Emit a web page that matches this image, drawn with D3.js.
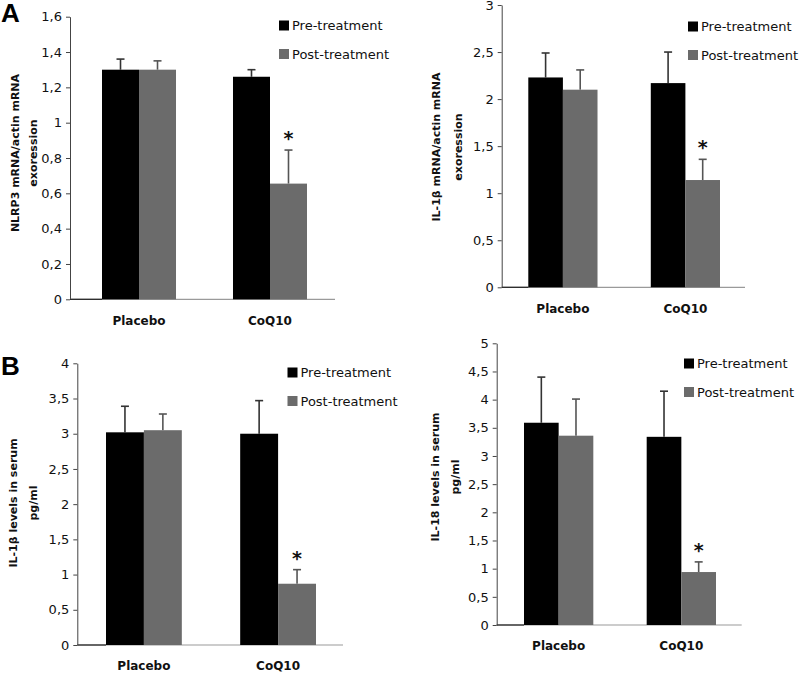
<!DOCTYPE html>
<html><head><meta charset="utf-8">
<script src="https://cdn.jsdelivr.net/npm/d3@7"></script>
<style>body{margin:0;background:#fff}svg{display:block}</style>
</head><body>
<svg id="c" width="800" height="673"></svg>
<script>
// ---------- data ----------
const categories = ["Placebo", "CoQ10"];
const seriesNames = ["Pre-treatment", "Post-treatment"];

const nlrp3Pre = [1.30, 1.26];
const nlrp3PreErr = [0.06, 0.04];
const nlrp3Post = [1.30, 0.655];
const nlrp3PostErr = [0.05, 0.19];

const il1bMrnaPre = [2.23, 2.17];
const il1bMrnaPreErr = [0.26, 0.33];
const il1bMrnaPost = [2.10, 1.14];
const il1bMrnaPostErr = [0.21, 0.22];

const il1bSerumPre = [3.02, 3.00];
const il1bSerumPreErr = [0.37, 0.47];
const il1bSerumPost = [3.05, 0.87];
const il1bSerumPostErr = [0.23, 0.20];

const il18Pre = [3.59, 3.34];
const il18PreErr = [0.81, 0.81];
const il18Post = [3.36, 0.94];
const il18PostErr = [0.65, 0.18];

const yMax = [1.6, 3, 4, 5];
const yStep = [0.2, 0.5, 0.5, 0.5];
const yLabels = [
  ["NLRP3 mRNA/actin mRNA", "exoression"],
  ["IL-1β mRNA/actin mRNA", "exoression"],
  ["IL-1β levels in serum", "pg/ml"],
  ["IL-18 levels in serum", "pg/ml"]
];
const panelLetters = ["A", null, "B", null];
const significance = ["*", "*"]; // on CoQ10 post-treatment bars (placeholder per category index 1)

// ---------- layout ----------
const layouts = [
  {ax:70,   right:335,   b0:102,   b1:307,   yTop:16.7,  y0:299.3, legX:279, legY:25.5, labX:[15,33],   labY:153},
  {ax:501.7,right:745,   b0:528.3, b1:720,   yTop:5,     y0:287.3, legX:688, legY:26.5, labX:[436.5,458], labY:147},
  {ax:77.3, right:343,   b0:106,   b1:316,   yTop:363.3, y0:645,   legX:287.5,legY:372.5,labX:[13,33],  labY:503},
  {ax:496.7,right:741.7, b0:524,   b1:716,   yTop:343.3, y0:625,   legX:684, legY:363.5,labX:[435,455], labY:477}
];
const panelsData = [
  [nlrp3Pre, nlrp3PreErr, nlrp3Post, nlrp3PostErr],
  [il1bMrnaPre, il1bMrnaPreErr, il1bMrnaPost, il1bMrnaPostErr],
  [il1bSerumPre, il1bSerumPreErr, il1bSerumPost, il1bSerumPostErr],
  [il18Pre, il18PreErr, il18Post, il18PostErr]
];
const colors = {pre:"#000000", post:"#6b6b6b"};
const errColors = {pre:"#333333", post:"#555555"};

const svg = d3.select("#c");
const fmt = d => String(d).replace(".", ",");

panelsData.forEach((pd, i) => {
  const L = layouts[i];
  const g = svg.append("g");
  const y = d3.scaleLinear().domain([0, yMax[i]]).range([L.y0, L.yTop]);
  const bw = ((L.b1 - L.b0) - 0) ; 
  const x = d3.scaleBand().domain(categories).range([L.b0, L.b1]).paddingInner(0.435).paddingOuter(0);
  const xs = d3.scaleBand().domain(["pre","post"]).range([0, x.bandwidth()]);
  const n = Math.round(yMax[i] / yStep[i]);
  const tv = d3.range(0, n + 1).map(k => +(k * yStep[i]).toFixed(2));

  // y axis
  const yAxis = g.append("g").attr("transform", `translate(${L.ax},0)`)
    .call(d3.axisLeft(y).tickValues(tv).tickFormat(fmt).tickSize(4).tickSizeOuter(0).tickPadding(4));
  yAxis.select(".domain").attr("stroke", "#444");
  yAxis.selectAll(".tick line").attr("stroke", "#444");
  yAxis.selectAll(".tick text").attr("font-family", "DejaVu Sans, Verdana, sans-serif")
    .attr("font-size", 13).attr("fill", "#111");

  // baseline
  g.append("line").attr("x1", L.ax).attr("x2", L.right).attr("y1", y(0)).attr("y2", y(0))
    .attr("stroke", "#9a9a9a").attr("stroke-width", 1.2);
  g.append("line").attr("x1", L.ax).attr("x2", x(categories[0])).attr("y1", y(0)).attr("y2", y(0))
    .attr("stroke", "#222").attr("stroke-width", 1.2);

  // bars
  const recs = [];
  categories.forEach((c, ci) => {
    recs.push({c, s:"pre", v:pd[0][ci], e:pd[1][ci]});
    recs.push({c, s:"post", v:pd[2][ci], e:pd[3][ci]});
  });
  // error bars (drawn first so bars cover the lower part)
  const eg = g.append("g");
  recs.forEach(r => {
    const cx = x(r.c) + xs(r.s) + xs.bandwidth() / 2;
    eg.append("line").attr("x1", cx).attr("x2", cx).attr("y1", y(r.v)).attr("y2", y(r.v + r.e))
      .attr("stroke", errColors[r.s]).attr("stroke-width", 1.6);
    eg.append("line").attr("x1", cx - 4).attr("x2", cx + 4).attr("y1", y(r.v + r.e)).attr("y2", y(r.v + r.e))
      .attr("stroke", errColors[r.s]).attr("stroke-width", 1.6);
  });
  g.append("g").selectAll("rect").data(recs).join("rect")
    .attr("x", r => x(r.c) + xs(r.s))
    .attr("width", xs.bandwidth())
    .attr("y", r => y(r.v))
    .attr("height", r => y(0) - y(r.v))
    .attr("fill", r => colors[r.s]);

  // significance asterisk on CoQ10 post
  const sr = recs[3];
  g.append("text").attr("x", x(sr.c) + xs("post") + xs.bandwidth() / 2)
    .attr("y", y(sr.v + sr.e) - 5)
    .attr("text-anchor", "middle").attr("font-family", "DejaVu Sans, sans-serif")
    .attr("font-weight", "bold").attr("font-size", 19).attr("fill", "#111").text(significance[1]);

  // x labels
  g.selectAll(".xl").data(categories).join("text")
    .attr("x", c => x(c) + x.bandwidth() / 2).attr("y", L.y0 + 21).attr("dy", "0.35em")
    .attr("text-anchor", "middle").attr("font-family", "DejaVu Sans, sans-serif")
    .attr("font-weight", "bold").attr("font-size", 12).attr("fill", "#111").text(c => c);

  // y label
  yLabels[i].forEach((t, li) => {
    g.append("text").attr("transform", `translate(${L.labX[li]},${L.labY}) rotate(-90)`)
      .attr("dy", "0.35em").attr("text-anchor", "middle")
      .attr("font-family", "DejaVu Sans, sans-serif").attr("font-weight", "bold")
      .attr("font-size", 11).attr("fill", "#111").text(t);
  });

  // legend
  seriesNames.forEach((s, si) => {
    const ly = L.legY + si * 28.5;
    g.append("rect").attr("x", L.legX).attr("y", ly - 5).attr("width", 10).attr("height", 10)
      .attr("fill", si === 0 ? colors.pre : colors.post);
    g.append("text").attr("x", L.legX + 13).attr("y", ly).attr("dy", "0.36em")
      .attr("font-family", "DejaVu Sans, Verdana, sans-serif").attr("font-size", 13)
      .attr("fill", "#111").text(s);
  });

  // panel letter
  if (panelLetters[i]) {
    g.append("text").attr("x", 1).attr("y", i === 0 ? 22 : 375)
      .attr("font-family", "Liberation Sans, Arial, sans-serif").attr("font-weight", "bold")
      .attr("font-size", 26).attr("fill", "#000").text(panelLetters[i]);
  }
});
</script>
</body></html>
